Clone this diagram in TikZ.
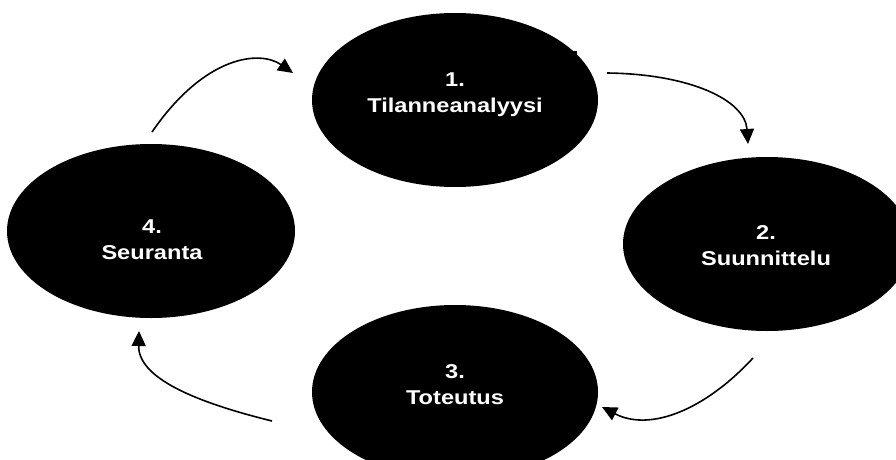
\documentclass[tikz,border=0pt]{standalone}
\usepackage{fontspec}
\setmainfont{Liberation Sans}[FakeStretch=1.18]
\usetikzlibrary{shapes.geometric,arrows.meta}
\begin{document}
\begin{tikzpicture}[x=1pt,y=-1pt,
  phase/.style={ellipse,fill=black,inner sep=0pt,minimum height=174},
  lbl/.style={text=white,align=center,inner sep=0pt,
    font=\fontsize{20}{26}\selectfont\bfseries},
  flow/.style={line width=1.6pt,-{Triangle[length=15pt,width=14pt]}}]
\useasboundingbox (0,0) rectangle (896,460);
\node[phase,minimum width=286] (e1) at (455,100) {};
\node[phase,minimum width=288] (e2) at (767,244) {};
\node[phase,minimum width=286] (e3) at (455,392) {};
\node[phase,minimum width=288] (e4) at (151,231) {};
\node[lbl] (t1) at (455,95) {1.\\Tilanneanalyysi};
\node[lbl] (t2) at (766,246) {2.\\Suunnittelu};
\node[lbl] (t3) at (455,385) {3.\\Toteutus};
\node[lbl] (t4) at (152,240) {4.\\Seuranta};
\fill (573,51) rectangle (577,58);
\coordinate (a1) at (152,132);
\coordinate (a2) at (293,73);
\coordinate (b1) at (607,73);
\coordinate (b2) at (748,144);
\coordinate (c1) at (753,358);
\coordinate (c2) at (602,407);
\coordinate (d1) at (272,421);
\coordinate (d2) at (139,331);
\draw[flow] (a1) .. controls (205,55) and (260,50) .. (a2);
\draw[flow] (b1) .. controls (690,74) and (745,100) .. (b2);
\draw[flow] (c1) .. controls (705,410) and (650,432) .. (c2);
\draw[flow] (d1) .. controls (195,402) and (138,378) .. (d2);
\end{tikzpicture}
\end{document}
